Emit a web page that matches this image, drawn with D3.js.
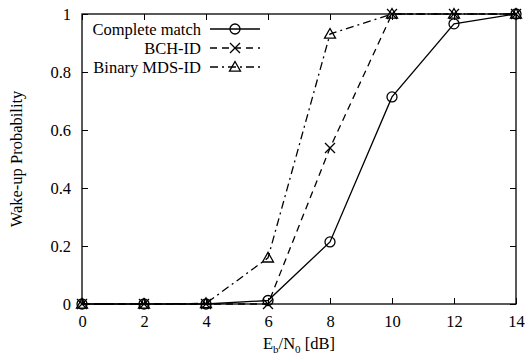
<!DOCTYPE html>
<html>
<head>
<meta charset="utf-8">
<script src="https://cdn.jsdelivr.net/npm/d3@7"></script>
<style>
  body { margin: 0; background: #fff; }
</style>
</head>
<body>
<svg id="chart" width="525" height="357"></svg>
<script>
// Wake-up probability versus Eb/N0 for three identification schemes
const snr = [0, 2, 4, 6, 8, 10, 12, 14];
const completeMatch = [0, 0, 0, 0.012, 0.214, 0.714, 0.966, 1];
const bchId = [0, 0, 0, 0, 0.538, 1, 1, 1];
const mdsId = [0, 0, 0.002, 0.159, 0.931, 1, 1, 1];
const xTicks = [0, 2, 4, 6, 8, 10, 12, 14];
const yTicks = [0, 0.2, 0.4, 0.6, 0.8, 1];

const series = [
  { name: "Complete match", values: completeMatch, dash: null, marker: "circle" },
  { name: "BCH-ID", values: bchId, dash: "7,5", marker: "cross" },
  { name: "Binary MDS-ID", values: mdsId, dash: "8,4,2,4", marker: "triangle" }
];

const FONT = "Liberation Serif";
const FS = 16.5;
const svg = d3.select("#chart");
const m = { left: 82, right: 516, top: 14, bottom: 304 };
const x = d3.scaleLinear().domain([0, 14]).range([m.left, m.right]);
const y = d3.scaleLinear().domain([0, 1]).range([m.bottom, m.top]);

// inward ticks on all four sides
const tickLen = 6;
const axisStyle = g => {
  g.select(".domain").remove();
  g.selectAll("line").attr("stroke", "#000");
  g.selectAll("text").style("font-size", FS + "px").attr("fill", "#000")
    .style("font-family", FONT);
};
svg.append("g").attr("transform", `translate(0,${m.bottom})`)
  .call(d3.axisBottom(x).tickValues(xTicks).tickSize(-tickLen).tickPadding(11).tickFormat(d3.format("d")))
  .call(axisStyle);
svg.append("g").attr("transform", `translate(0,${m.top})`)
  .call(d3.axisTop(x).tickValues(xTicks).tickSize(-tickLen).tickFormat(""))
  .call(axisStyle);
svg.append("g").attr("transform", `translate(${m.left},0)`)
  .call(d3.axisLeft(y).tickValues(yTicks).tickSize(-tickLen).tickPadding(11).tickFormat(d => d === 0 || d === 1 ? String(d) : d3.format(".1f")(d)))
  .call(axisStyle);
svg.append("g").attr("transform", `translate(${m.right},0)`)
  .call(d3.axisRight(y).tickValues(yTicks).tickSize(-tickLen).tickFormat(""))
  .call(axisStyle);

// frame
svg.append("rect")
  .attr("x", m.left).attr("y", m.top)
  .attr("width", m.right - m.left).attr("height", m.bottom - m.top)
  .attr("fill", "none").attr("stroke", "#000").attr("stroke-width", 1.3);

function drawMarker(g, type, cx, cy) {
  if (type === "circle") {
    g.append("circle").attr("cx", cx).attr("cy", cy).attr("r", 5)
      .attr("fill", "none").attr("stroke", "#000").attr("stroke-width", 1.3);
  } else if (type === "cross") {
    const s = 5;
    g.append("path")
      .attr("d", `M${cx - s},${cy - s}L${cx + s},${cy + s}M${cx - s},${cy + s}L${cx + s},${cy - s}`)
      .attr("stroke", "#000").attr("stroke-width", 1.3).attr("fill", "none");
  } else {
    const s = 5.5;
    g.append("path")
      .attr("d", `M${cx},${cy - s}L${cx + s},${cy + s * 0.75}L${cx - s},${cy + s * 0.75}Z`)
      .attr("stroke", "#000").attr("stroke-width", 1.3).attr("fill", "none");
  }
}

const line = d3.line().x((d, i) => x(snr[i])).y(d => y(d));
const plot = svg.append("g");
series.forEach(s => {
  plot.append("path")
    .attr("d", line(s.values))
    .attr("fill", "none").attr("stroke", "#000").attr("stroke-width", 1.3)
    .attr("stroke-dasharray", s.dash);
  s.values.forEach((v, i) => drawMarker(plot, s.marker, x(snr[i]), y(v)));
});

// legend
const legend = svg.append("g");
series.forEach((s, i) => {
  const ly = 29 + i * 19;
  legend.append("text").attr("x", 201).attr("y", ly).attr("dy", "0.35em")
    .attr("text-anchor", "end").style("font-size", FS + "px").style("font-family", FONT).text(s.name);
  legend.append("line").attr("x1", 210).attr("x2", 260).attr("y1", ly).attr("y2", ly)
    .attr("stroke", "#000").attr("stroke-width", 1.3).attr("stroke-dasharray", s.dash);
  drawMarker(legend, s.marker, 235, ly);
});

// axis titles
const xl = svg.append("text").attr("x", 299).attr("y", 349)
  .attr("text-anchor", "middle").style("font-size", FS + "px").style("font-family", FONT);
xl.append("tspan").text("E");
xl.append("tspan").style("font-size", "11px").attr("dy", 4).text("b");
xl.append("tspan").attr("dy", -4).text("/N");
xl.append("tspan").style("font-size", "11px").attr("dy", 4).text("0");
xl.append("tspan").attr("dy", -4).text(" [dB]");

svg.append("text")
  .attr("transform", `translate(22,${(m.top + m.bottom) / 2}) rotate(-90)`)
  .attr("text-anchor", "middle").style("font-size", FS + "px").style("font-family", FONT)
  .text("Wake-up Probability");
</script>
</body>
</html>
